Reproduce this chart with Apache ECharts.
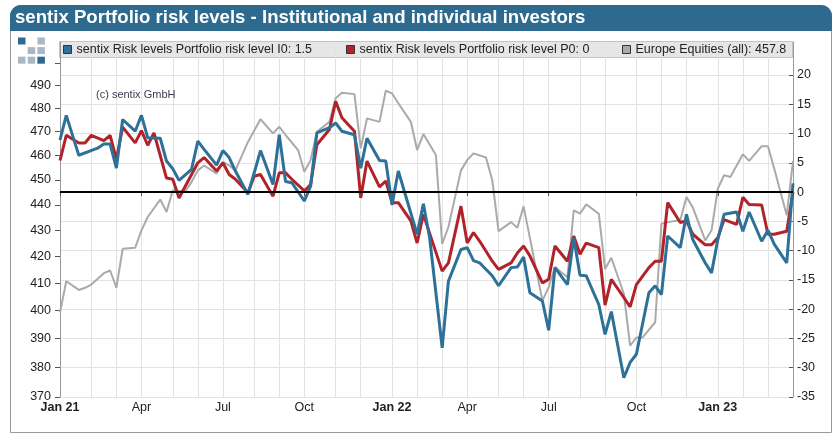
<!DOCTYPE html>
<html><head><meta charset="utf-8">
<script src="https://cdn.jsdelivr.net/npm/echarts@6/dist/echarts.min.js"></script>
<style>html,body{margin:0;padding:0;background:#fff}#c{width:836px;height:436px}</style>
</head><body><div id="c"></div>
<script>
const FONT = "'Liberation Sans', Arial, sans-serif";

// Weekly survey dates (Fridays), Jan 1 2021 .. Mar 31 2023
const firstWeek = Date.UTC(2021, 0, 1);
const weekCount = 118;
const weeks = [];
for (let i = 0; i < weekCount; i++) {
  weeks.push(new Date(firstWeek + i * 7 * 864e5).toISOString().slice(0, 10));
}

const titleText = 'sentix Portfolio risk levels - Institutional and individual investors';
const seriesNames = [
  'sentix Risk levels Portfolio risk level I0: 1.5',
  'sentix Risk levels Portfolio risk level P0: 0',
  'Europe Equities (all): 457.8'
];
const quarterNames = {1: 'Jan', 4: 'Apr', 7: 'Jul', 10: 'Oct'};

// [week index, value]
const riskI0 = [[0,8.9],[1,13.1],[3,6.3],[6,7.5],[7,8.2],[8,8.2],[9,4.1],[10,12.4],[12,10.4],[13,13.1],[14,9.3],[16,9.2],[17,5.3],[18,4.0],[19,2.0],[21,3.9],[22,8.7],[23,7.3],[25,4.6],[26,7.1],[27,5.9],[28,3.6],[30,-0.4],[31,3.3],[32,7.1],[34,1.3],[35,9.8],[36,1.8],[37,1.6],[39,-1.5],[40,1.0],[41,10.1],[43,11.0],[44,11.8],[45,10.4],[47,9.8],[48,4.1],[49,9.2],[51,5.4],[52,5.3],[53,-2.2],[54,3.6],[57,-7.2],[58,-2.0],[59,-7.8],[61,-26.6],[62,-15.2],[64,-9.8],[65,-9.5],[66,-11.7],[67,-12.1],[69,-14.3],[70,-16.0],[72,-12.9],[73,-12.8],[74,-11.1],[75,-17.2],[77,-18.6],[78,-23.6],[79,-12.9],[81,-15.8],[82,-7.8],[83,-14.2],[84,-14.3],[86,-19.2],[87,-24.3],[88,-20.4],[90,-31.7],[91,-29.1],[92,-27.7],[94,-17.2],[95,-16.0],[96,-17.5],[97,-7.5],[99,-9.5],[100,-3.8],[101,-8.1],[103,-12.1],[104,-13.8],[105,-8.1],[106,-3.8],[108,-3.4],[109,-6.7],[110,-3.4],[112,-8.4],[113,-6.5],[114,-8.9],[116,-12.1],[117,1.5]];

const riskP0 = [[0,5.4],[1,9.7],[3,8.4],[4,8.4],[5,9.7],[7,8.8],[8,9.7],[9,5.6],[10,11.1],[12,8.4],[13,10.5],[14,8.0],[15,10.1],[17,2.4],[18,2.2],[19,-1.0],[21,3.0],[22,5.0],[23,5.9],[25,3.6],[26,5.0],[27,3.0],[28,2.2],[30,-0.1],[31,2.7],[32,3.0],[34,-0.7],[35,3.3],[36,3.3],[37,2.2],[39,0.2],[40,1.3],[41,8.1],[43,10.7],[44,15.5],[45,12.7],[47,10.4],[48,-1.0],[49,5.3],[51,0.9],[52,1.9],[53,-1.8],[54,-1.8],[56,-4.9],[57,-8.7],[58,-3.8],[61,-13.5],[62,-12.1],[64,-2.4],[65,-8.7],[66,-6.9],[67,-8.4],[69,-11.8],[70,-13.2],[72,-12.1],[73,-10.4],[74,-9.2],[75,-10.9],[77,-15.5],[78,-14.9],[79,-9.2],[81,-11.8],[82,-7.5],[83,-10.6],[84,-8.7],[86,-9.5],[87,-19.3],[88,-14.9],[90,-18.0],[91,-19.6],[92,-15.8],[94,-12.9],[95,-11.8],[96,-11.8],[97,-1.8],[99,-5.2],[100,-4.9],[101,-7.2],[103,-9.0],[104,-9.0],[105,-7.8],[106,-4.7],[108,-5.5],[109,-0.9],[110,-2.1],[112,-2.2],[113,-7.2],[114,-7.2],[116,-6.7],[117,0]];

const equities = [[0,399.3],[1,410.7],[3,407.5],[4,408.3],[5,409.5],[7,413.7],[8,414.7],[9,408.3],[10,422.9],[12,423.3],[13,430],[14,435.2],[16,442.1],[17,437.2],[18,445.8],[20,445.3],[21,449.2],[22,453.9],[23,455.9],[25,452.6],[26,457.4],[27,455.9],[28,453.9],[30,465.7],[32,475.3],[34,469.3],[35,472.1],[36,468.6],[38,462.3],[39,453.3],[40,458.1],[41,470.0],[43,474.2],[44,484.4],[45,486.8],[47,486.2],[48,463.0],[49,475.7],[51,474.2],[52,487.7],[53,486.5],[54,482.2],[56,474.2],[57,462.3],[58,469.0],[60,460.2],[61,424.8],[62,431.3],[64,453.9],[65,458.1],[66,460.9],[68,459.2],[69,449.9],[70,429.7],[72,433.2],[73,431.0],[74,439.4],[77,403.6],[78,408.5],[79,416.0],[81,412.2],[82,437.8],[83,436.5],[84,440.2],[86,436.5],[87,415.3],[88,419.5],[90,406.1],[91,387.5],[92,390.4],[93,390.4],[95,395.8],[96,432.6],[97,433.2],[99,433.9],[100,443.1],[101,439.0],[103,426.1],[104,430.0],[105,446.5],[106,451.9],[107,451.2],[109,460.5],[110,457.8],[112,463.9],[113,463.9],[114,454.7],[116,435.9],[117,457.8]];

const leftTickLabels = [370,380,390,400,410,420,430,440,450,460,470,480,490];
const leftTickMarks = [370,380,390,400,410,420,430,440,450,460,470,480,490,500];
const leftRange = [370, 509.6];
const rightTickLabels = [-35,-30,-25,-20,-15,-10,-5,0,5,10,15,20];
const rightRange = [-35, 25.64];

const COLORS = {blue: '#2d7098', red: '#b1232a', gray: '#aaaaaa', bar: '#2d6a8e'};

function isMonthStart(v) { return +v.slice(8, 10) <= 7; }
function isQuarterStart(v) { return isMonthStart(v) && (+v.slice(5, 7)) % 3 === 1; }
function xLabel(v) {
  const m = +v.slice(5, 7);
  if (m === 1) return '{b|Jan ' + v.slice(2, 4) + '}';
  return quarterNames[m] || '';
}

const chart = echarts.init(document.getElementById('c'), null, {renderer: 'canvas'});
const legendLefts = [63, 346, 622];
const labelStyle = {color: '#222', fontSize: 12.5, fontFamily: FONT};

const logoBlue = COLORS.bar, logoGray = '#a9b8c5';
const logoCells = [
  [0,0,logoBlue],[2,0,logoGray],
  [1,1,logoGray],[2,1,logoGray],
  [0,2,logoGray],[1,2,logoGray],[2,2,logoBlue]
];

const option = {
  animation: false,
  backgroundColor: '#fff',
  textStyle: {fontFamily: FONT},
  grid: {left: 60, right: 43, top: 42, bottom: 39},
  legend: seriesNames.map((n, k) => ({
    data: [n], left: legendLefts[k], top: 43, padding: 0,
    itemWidth: 8, itemHeight: 8, icon: 'rect', selectedMode: false, z: 10,
    itemStyle: {borderColor: '#333', borderWidth: 1},
    textStyle: {fontSize: 12.5, color: '#222', fontFamily: FONT}
  })),
  xAxis: {
    type: 'category', data: weeks, boundaryGap: false,
    axisLine: {lineStyle: {color: '#666', width: 1}},
    axisTick: {interval: (i, v) => isQuarterStart(v), length: 4, lineStyle: {color: '#555'}},
    axisLabel: Object.assign({
      interval: (i, v) => isQuarterStart(v), formatter: xLabel, margin: 4,
      rich: {b: {fontWeight: 'bold', fontSize: 12.5, color: '#222', fontFamily: FONT}}
    }, labelStyle),
    splitLine: {show: true, interval: (i, v) => isMonthStart(v), lineStyle: {color: '#e3e3e3', width: 1}}
  },
  yAxis: [
    {
      type: 'value', position: 'left',
      min: Math.log(leftRange[0]), max: Math.log(leftRange[1]),
      axisLine: {show: true, lineStyle: {color: '#999'}},
      axisTick: {show: true, length: 5, customValues: leftTickMarks.map(Math.log), lineStyle: {color: '#555'}},
      axisLabel: Object.assign({customValues: leftTickLabels.map(Math.log), formatter: v => String(Math.round(Math.exp(v))), margin: 9}, labelStyle),
      splitLine: {show: false}
    },
    {
      type: 'value', position: 'right', min: rightRange[0], max: rightRange[1],
      axisLine: {show: true, lineStyle: {color: '#999'}},
      axisTick: {show: true, inside: true, length: 4, customValues: rightTickLabels, lineStyle: {color: '#555'}},
      axisLabel: Object.assign({customValues: rightTickLabels, margin: 4}, labelStyle),
      splitLine: {show: true, lineStyle: {color: '#e3e3e3', width: 1}}
    }
  ],
  series: [
    {
      name: seriesNames[2], type: 'line', yAxisIndex: 0,
      data: equities.map(([i, v]) => [i, Math.log(v)]),
      symbol: 'none', color: COLORS.gray,
      lineStyle: {color: COLORS.gray, width: 2}, emphasis: {disabled: true}, silent: true
    },
    {
      name: seriesNames[1], type: 'line', yAxisIndex: 1, data: riskP0,
      symbol: 'none', color: COLORS.red,
      lineStyle: {color: COLORS.red, width: 3}, emphasis: {disabled: true}, silent: true,
      markLine: {silent: true, symbol: 'none', label: {show: false}, animation: false,
        lineStyle: {color: '#000', width: 2, type: 'solid'}, data: [{yAxis: 0}]}
    },
    {
      name: seriesNames[0], type: 'line', yAxisIndex: 1, data: riskI0,
      symbol: 'none', color: COLORS.blue,
      lineStyle: {color: COLORS.blue, width: 3}, emphasis: {disabled: true}, silent: true
    }
  ],
  graphic: {elements: [
    {type: 'rect', z: -2, shape: {x: 10.5, y: 5.5, width: 821, height: 427, r: [11, 11, 0, 0]},
     style: {fill: 'none', stroke: '#9a9a9a', lineWidth: 1}},
    {type: 'rect', z: 20, shape: {x: 10, y: 5, width: 822, height: 26, r: [11, 11, 0, 0]},
     style: {fill: COLORS.bar}},
    {type: 'text', z: 21, x: 15, y: 18,
     style: {text: titleText, fill: '#fff', font: 'bold 18.6px ' + FONT, verticalAlign: 'middle'}},
    {type: 'rect', z: -1, shape: {x: 59.5, y: 41.5, width: 733, height: 16},
     style: {fill: '#e6e6e6', stroke: '#c4c4c4', lineWidth: 1}},
    {type: 'text', z: 21, x: 96, y: 95,
     style: {text: '(c) sentix GmbH', fill: '#3e3a52', font: '11px ' + FONT, verticalAlign: 'middle'}}
  ].concat(logoCells.map(([cx, cy, col]) => ({
    type: 'rect', z: 21, shape: {x: 18 + cx * 9.7, y: 37.5 + cy * 9.6, width: 7.5, height: 7},
    style: {fill: col}
  })))}
};
chart.setOption(option);
</script>
</body></html>
